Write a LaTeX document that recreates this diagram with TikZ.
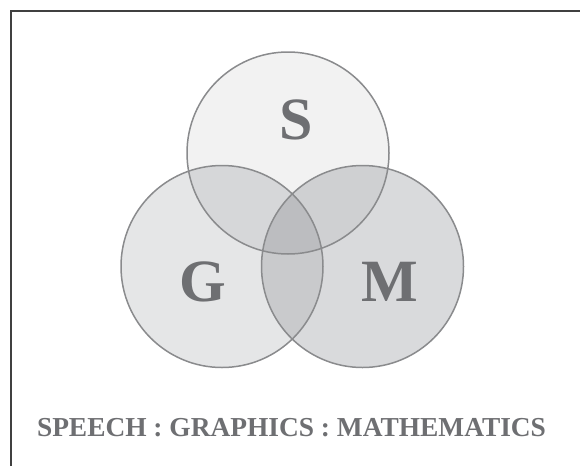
\documentclass[tikz,border=0pt]{standalone}
\usepackage{fontspec}
\setmainfont{Liberation Serif}
\definecolor{sOnly}{HTML}{F2F2F2}
\definecolor{gOnly}{HTML}{E5E6E7}
\definecolor{mOnly}{HTML}{D9DADC}
\definecolor{sgCol}{HTML}{D6D7D9}
\definecolor{smCol}{HTML}{CFD0D2}
\definecolor{gmCol}{HTML}{C9CACC}
\definecolor{sgmCol}{HTML}{BCBDC0}
\definecolor{ringCol}{HTML}{8A8B8D}
\definecolor{letterCol}{HTML}{6E6F72}
\definecolor{frameCol}{HTML}{404040}
\tikzset{
  ring/.style={draw=ringCol, line width=1.5pt},
  bigletter/.style={text=letterCol, font=\fontsize{60}{60}\selectfont\bfseries, inner sep=0pt},
  caption/.style={text=letterCol, font=\fontsize{27.4}{30}\selectfont\bfseries, inner sep=0pt},
}
\begin{document}
\begin{tikzpicture}[x=1pt,y=-1pt]
\useasboundingbox (0,0) rectangle (580,466);
\coordinate (cS) at (288,153);
\coordinate (cG) at (222,266.5);
\coordinate (cM) at (362.5,266.5);
\def\R{101pt}
% single fills
\fill[sOnly] (cS) circle[radius=\R];
\fill[gOnly] (cG) circle[radius=\R];
\fill[mOnly] (cM) circle[radius=\R];
% pairwise
\begin{scope}\clip (cS) circle[radius=\R]; \fill[sgCol] (cG) circle[radius=\R];\end{scope}
\begin{scope}\clip (cS) circle[radius=\R]; \fill[smCol] (cM) circle[radius=\R];\end{scope}
\begin{scope}\clip (cG) circle[radius=\R]; \fill[gmCol] (cM) circle[radius=\R];\end{scope}
\begin{scope}\clip (cS) circle[radius=\R]; \clip (cG) circle[radius=\R]; \fill[sgmCol] (cM) circle[radius=\R];\end{scope}
% outlines
\draw[ring] (cS) circle[radius=\R];
\draw[ring] (cG) circle[radius=\R];
\draw[ring] (cM) circle[radius=\R];
% letters
\node[bigletter] (lS) at (296,120) {S};
\node[bigletter] (lG) at (203,282) {G};
\node[bigletter] (lM) at (390,282) {M};
\node[caption] (cap) at (291.5,428) {SPEECH : GRAPHICS : MATHEMATICS};
% frame
\draw[frameCol, line width=2pt] (10.5,466) -- (10.5,11) -- (580,11);
\end{tikzpicture}
\end{document}
